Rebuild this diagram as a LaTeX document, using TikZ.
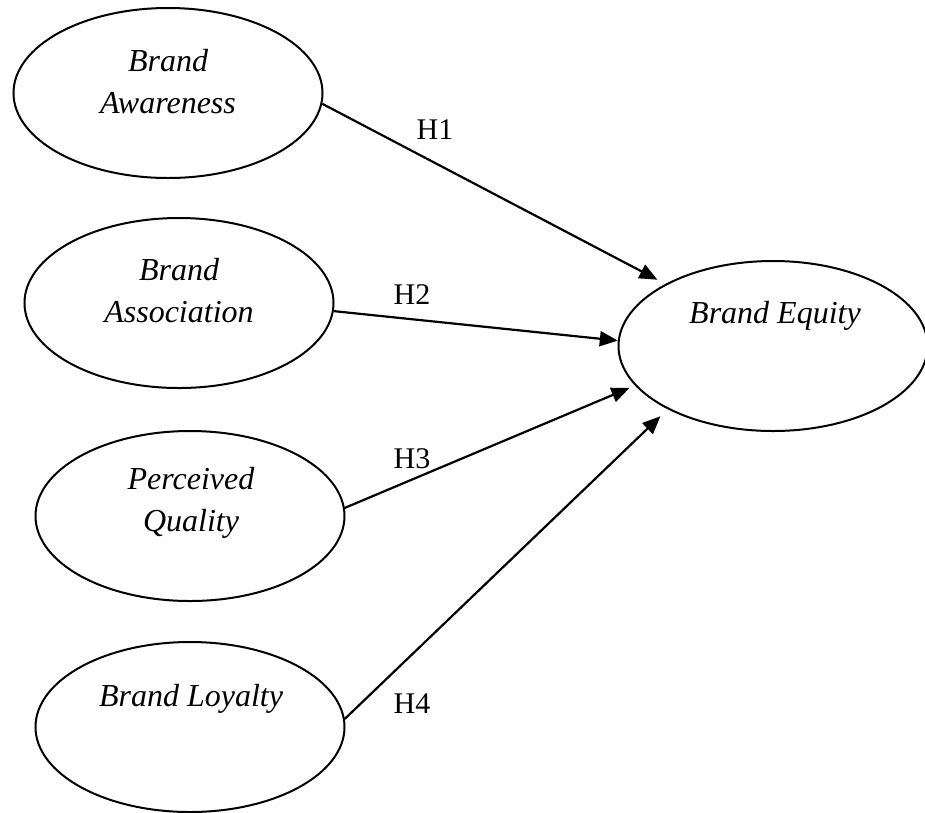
\documentclass[tikz,border=0pt]{standalone}
\usepackage{fontspec}
\setmainfont{Liberation Serif}
\usetikzlibrary{shapes.geometric,arrows.meta}

\tikzset{
  construct/.style={draw, ellipse, line width=2pt, minimum width=309pt, minimum height=170pt},
  cname/.style={font=\fontsize{32}{42}\selectfont\itshape, align=center, inner sep=0pt},
  hyp/.style={-{Triangle[length=18pt,width=15pt]}, line width=2.2pt},
  hlabel/.style={font=\fontsize{30}{36}\selectfont, inner sep=0pt},
}

\begin{document}
\begin{tikzpicture}[x=1pt,y=-1pt]
  \useasboundingbox (0,0) rectangle (925,812);
  % constructs
  \node[construct] (aware)  at (168,93)  {};
  \node[construct] (assoc)  at (179,303) {};
  \node[construct] (qual)   at (190,516) {};
  \node[construct] (loyal)  at (190,727) {};
  \node[construct] (equity) at (773,346) {};
  % names inside the ellipses (base = last line)
  \node[cname, anchor=base] (aware-t)  at (168,113) {Brand\\Awareness};
  \node[cname, anchor=base] (assoc-t)  at (179,322) {Brand\\Association};
  \node[cname, anchor=base] (qual-t)   at (191,531) {Perceived\\Quality};
  \node[cname, anchor=base] (loyal-t)  at (191,706) {Brand Loyalty};
  \node[cname, anchor=base] (equity-t) at (775,323) {Brand Equity};
  % hypotheses
  \draw[hyp, shorten >=9pt]  (aware.-4) -- (equity.150);
  \draw[hyp]                 (assoc.-3) -- (equity.178);
  \draw[hyp, shorten >=6pt]  (qual.3)   -- (equity.196);
  \draw[hyp, shorten >=10pt] (loyal.3)  -- (equity.211);
  \node[hlabel] (h1) at (435,130) {H1};
  \node[hlabel] (h2) at (412,295) {H2};
  \node[hlabel] (h3) at (412,459) {H3};
  \node[hlabel] (h4) at (412,704) {H4};
\end{tikzpicture}
\end{document}
